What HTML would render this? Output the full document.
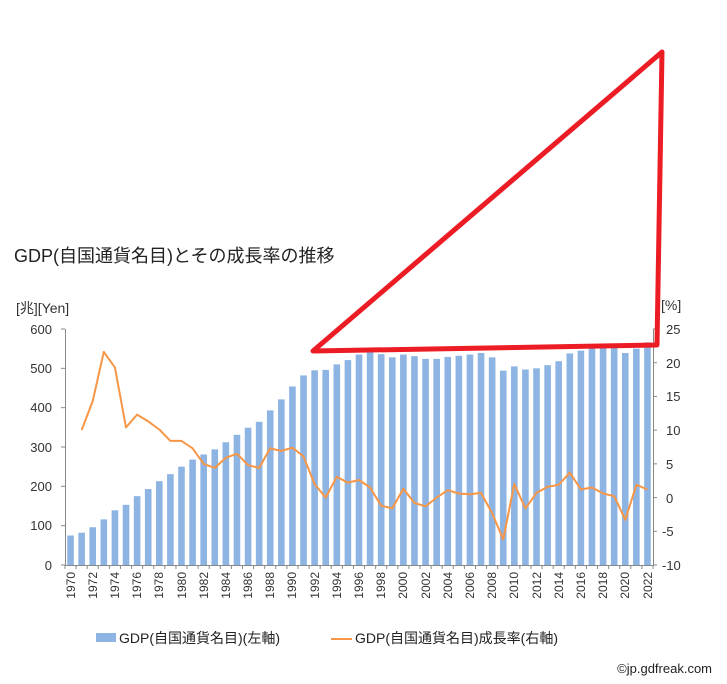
<!DOCTYPE html>
<html><head><meta charset="utf-8"><style>
html,body{margin:0;padding:0;background:#fff;}
svg{display:block;font-family:"Liberation Sans","Noto Sans CJK JP",sans-serif;}
</style></head><body>
<svg id="c" width="727" height="684" xmlns="http://www.w3.org/2000/svg">
<text x="14" y="262" font-size="18" fill="#222">GDP(自国通貨名目)とその成長率の推移</text>
<text x="16" y="313" font-size="14" fill="#333">[兆][Yen]</text>
<text x="661" y="310" font-size="14" fill="#333">[%]</text>
<g font-size="13" fill="#333" text-anchor="end">
<text x="52" y="334">600</text><text x="52" y="373">500</text><text x="52" y="412">400</text><text x="52" y="452">300</text><text x="52" y="491">200</text><text x="52" y="530">100</text><text x="52" y="570">0</text>
</g>
<g font-size="13" fill="#333" text-anchor="start">
<text x="666" y="334">25</text><text x="666" y="368">20</text><text x="666" y="401">15</text><text x="666" y="435">10</text><text x="666" y="469">5</text><text x="666" y="503">0</text><text x="662" y="536">-5</text><text x="662" y="570">-10</text>
</g>
<g id="bars" fill="#8db4e2"></g>
<g stroke="#888" stroke-width="1" fill="none" id="axes">
<line x1="65.5" y1="329" x2="65.5" y2="565"/>
<line x1="653.5" y1="329" x2="653.5" y2="565"/>
<line x1="65" y1="565.5" x2="654" y2="565.5"/>
</g>
<g font-size="12" fill="#333" text-anchor="end">
<text transform="translate(75,572) rotate(-90)">1970</text>
<text transform="translate(97,572) rotate(-90)">1972</text>
<text transform="translate(119,572) rotate(-90)">1974</text>
<text transform="translate(141,572) rotate(-90)">1976</text>
<text transform="translate(163,572) rotate(-90)">1978</text>
<text transform="translate(186,572) rotate(-90)">1980</text>
<text transform="translate(208,572) rotate(-90)">1982</text>
<text transform="translate(230,572) rotate(-90)">1984</text>
<text transform="translate(252,572) rotate(-90)">1986</text>
<text transform="translate(274,572) rotate(-90)">1988</text>
<text transform="translate(296,572) rotate(-90)">1990</text>
<text transform="translate(319,572) rotate(-90)">1992</text>
<text transform="translate(341,572) rotate(-90)">1994</text>
<text transform="translate(363,572) rotate(-90)">1996</text>
<text transform="translate(385,572) rotate(-90)">1998</text>
<text transform="translate(407,572) rotate(-90)">2000</text>
<text transform="translate(430,572) rotate(-90)">2002</text>
<text transform="translate(452,572) rotate(-90)">2004</text>
<text transform="translate(474,572) rotate(-90)">2006</text>
<text transform="translate(496,572) rotate(-90)">2008</text>
<text transform="translate(518,572) rotate(-90)">2010</text>
<text transform="translate(541,572) rotate(-90)">2012</text>
<text transform="translate(563,572) rotate(-90)">2014</text>
<text transform="translate(585,572) rotate(-90)">2016</text>
<text transform="translate(607,572) rotate(-90)">2018</text>
<text transform="translate(629,572) rotate(-90)">2020</text>
<text transform="translate(652,572) rotate(-90)">2022</text>
</g>
<polyline id="line" fill="none" stroke="#f79646" stroke-width="2" stroke-linejoin="round"/>
<polygon points="313,351 662,52 657,345" fill="none" stroke="#ec1c24" stroke-width="5" stroke-linejoin="round"/>
<rect x="96" y="633" width="20" height="9" fill="#8db4e2"/>
<text x="119" y="643" font-size="14" fill="#222">GDP(自国通貨名目)(左軸)</text>
<line x1="331" y1="639" x2="352" y2="639" stroke="#f79646" stroke-width="2"/>
<text x="355" y="643" font-size="14" fill="#222">GDP(自国通貨名目)成長率(右軸)</text>
<text x="712" y="673" font-size="13" fill="#222" text-anchor="end">©jp.gdfreak.com</text>
</svg>
<script>
var g=[75,82,96,116,139,153,175,193,213,231,250,268,281,294,312,331,349,364,393,421,454,482,495,496,510,521,535,543,536,528,535,531,524,524,529,532,535,539,528,494,505,497,500,508,518,538,545,553,556,557,539,550,566];
var r=[null,10.0,14.3,21.6,19.3,10.4,12.3,11.3,10.1,8.4,8.4,7.3,5.0,4.4,5.9,6.5,4.8,4.4,7.3,6.9,7.4,6.1,2.0,0.0,3.1,2.2,2.6,1.5,-1.2,-1.6,1.3,-0.8,-1.3,0.0,1.1,0.6,0.5,0.7,-2.3,-6.2,2.0,-1.6,0.7,1.6,1.9,3.7,1.2,1.5,0.6,0.2,-3.3,1.9,1.2];
var ns="http://www.w3.org/2000/svg",b=document.getElementById("bars"),w=588/53,pts=[];
for(var i=0;i<53;i++){var cx=65+(i+0.5)*w,h=g[i]*236/600;
var e=document.createElementNS(ns,"rect");e.setAttribute("x",cx-3.3);e.setAttribute("y",565-h);e.setAttribute("width",6.6);e.setAttribute("height",h);b.appendChild(e);
if(r[i]!==null)pts.push(cx.toFixed(1)+","+(565-(r[i]+10)*236/35).toFixed(1));}
document.getElementById("line").setAttribute("points",pts.join(" "));
var ax=document.getElementById("axes");
for(var k=0;k<=6;k++){var y=329+k*236/6;var l=document.createElementNS(ns,"line");l.setAttribute("x1",61);l.setAttribute("x2",65);l.setAttribute("y1",y);l.setAttribute("y2",y);ax.appendChild(l);}
for(var k=0;k<=7;k++){var y=329+k*236/7;var l=document.createElementNS(ns,"line");l.setAttribute("x1",653);l.setAttribute("x2",657);l.setAttribute("y1",y);l.setAttribute("y2",y);ax.appendChild(l);}
for(var k=0;k<=53;k++){var x=65+k*w;var l=document.createElementNS(ns,"line");l.setAttribute("x1",x);l.setAttribute("x2",x);l.setAttribute("y1",565);l.setAttribute("y2",569);ax.appendChild(l);}
</script>
</body></html>
